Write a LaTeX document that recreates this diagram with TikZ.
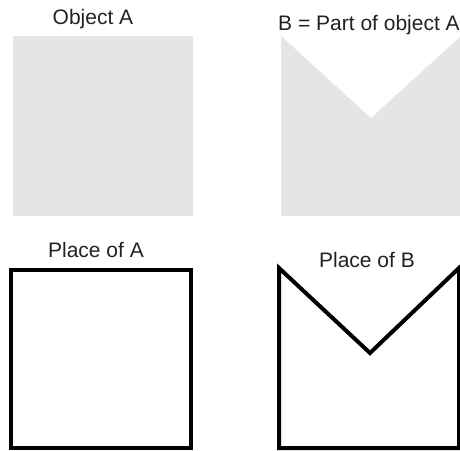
\documentclass[tikz,border=0pt]{standalone}
\usepackage{fontspec}
\setmainfont{Liberation Sans}
\usetikzlibrary{positioning}
\definecolor{colShade}{HTML}{E5E5E5}
\definecolor{colInk}  {HTML}{222222}
\tikzset{
  lbl/.style={
    anchor=base, inner sep=0pt, text=colInk,
    font=\fontsize{21}{24}\selectfont
  },
  solid/.style={fill=colShade, draw=none},
  place/.style={draw=black, line width=4pt, miter limit=10}
}
\begin{document}
\begin{tikzpicture}[x=1pt, y=-1pt]
  \useasboundingbox (0,0) rectangle (460,450);
  % objects (top row)
  \fill[solid] (13,36) rectangle (193,216);
  \fill[solid] (281,36) -- (371,118) -- (461,36) -- (461,216) -- (281,216) -- cycle;
  \node[lbl] (objA) at (93,24)  {Object A};
  \node[lbl] (objB) at (369,30) {B = Part of object A};
  % places (bottom row)
  \draw[place] (11,270) rectangle (191,448);
  \draw[place] (279,268) -- (370,353) -- (459,268) -- (459,448) -- (279,448) -- cycle;
  \node[lbl] (plcA) at (96,257)  {Place of A};
  \node[lbl] (plcB) at (367,267) {Place of B};
\end{tikzpicture}
\end{document}
